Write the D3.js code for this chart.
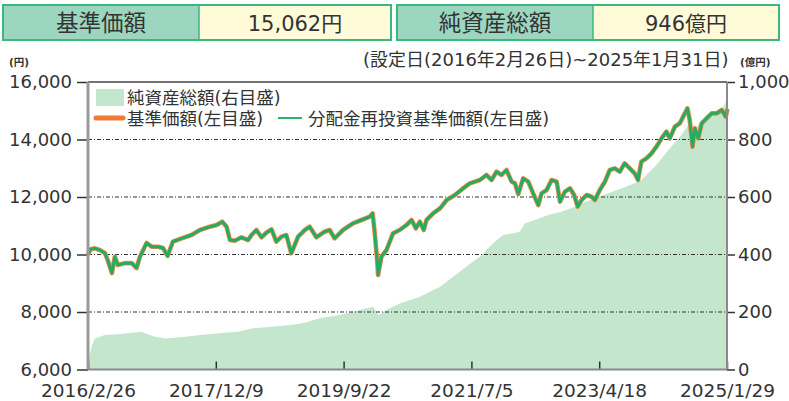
<!DOCTYPE html>
<html><head><meta charset="utf-8">
<script src="https://cdn.jsdelivr.net/npm/d3@7"></script>
<style>
body{margin:0;background:#fff}
svg{display:block}
text{font-family:"DejaVu Sans","Noto Sans CJK JP",sans-serif;fill:#333}
</style>
</head><body><svg id="c" width="789" height="401"></svg>
<script>
// ---- data ----
const priceDates = ["2016-02-26","2016-03-10","2016-04-01","2016-04-26","2016-05-22","2016-06-06","2016-06-27","2016-07-12","2016-07-27","2016-09-02","2016-10-06","2016-10-31","2016-11-17","2016-12-21","2017-01-16","2017-02-17","2017-03-15","2017-04-07","2017-05-04","2017-06-18","2017-08-07","2017-09-19","2017-10-29","2017-12-13","2018-01-11","2018-02-02","2018-02-19","2018-03-16","2018-04-19","2018-05-23","2018-06-09","2018-07-04","2018-07-30","2018-08-24","2018-09-19","2018-10-14","2018-11-09","2018-12-04","2018-12-29","2019-02-02","2019-03-08","2019-04-02","2019-05-06","2019-06-17","2019-07-13","2019-08-07","2019-09-19","2019-11-09","2019-12-22","2020-02-03","2020-02-17","2020-02-28","2020-03-11","2020-03-16","2020-04-02","2020-04-28","2020-05-31","2020-07-04","2020-08-08","2020-09-03","2020-09-25","2020-10-15","2020-11-04","2020-11-18","2020-12-22","2021-01-26","2021-03-01","2021-04-12","2021-05-24","2021-06-27","2021-08-17","2021-09-20","2021-10-16","2021-11-10","2021-12-06","2021-12-31","2022-01-26","2022-02-12","2022-03-01","2022-03-26","2022-04-21","2022-05-16","2022-06-11","2022-06-28","2022-07-24","2022-08-18","2022-09-13","2022-09-30","2022-10-25","2022-11-20","2022-12-11","2022-12-29","2023-01-18","2023-02-13","2023-03-10","2023-03-27","2023-04-21","2023-05-17","2023-06-11","2023-07-06","2023-08-01","2023-08-26","2023-09-21","2023-10-16","2023-11-02","2023-11-19","2023-12-15","2024-01-10","2024-02-04","2024-03-01","2024-03-26","2024-04-12","2024-05-08","2024-06-02","2024-06-28","2024-07-11","2024-07-23","2024-08-06","2024-08-18","2024-09-04","2024-09-22","2024-10-17","2024-11-12","2024-12-08","2025-01-02","2025-01-23","2025-01-31"];
const priceValues = [10000,10180,10215,10156,10050,9800,9356,9923,9634,9700,9700,9530,9923,10400,10271,10271,10225,9950,10445,10563,10678,10852,10945,11026,11141,10967,10504,10480,10598,10504,10678,10852,10598,10758,10876,10445,10620,10678,10041,10620,10852,10967,10598,10793,10852,10563,10852,11085,11200,11316,11432,10736,9808,9287,9923,10156,10736,10852,11026,11200,10910,11141,10852,11200,11432,11606,11895,12069,12302,12476,12591,12765,12591,12880,12765,12939,12532,12476,12100,12650,12532,12128,11721,12128,12243,12591,12532,11837,12186,12302,12069,11663,11895,12069,12010,11895,12243,12532,12939,12997,12880,13170,12997,12823,12591,13228,13345,13519,13750,14040,14271,14040,14445,14562,14910,15084,14678,13750,14387,14040,14562,14736,14910,14910,15026,14794,15062];
const navDates = ["2016-02-26","2016-03-15","2016-04-01","2016-05-22","2016-07-27","2016-10-06","2016-11-24","2016-12-12","2017-02-02","2017-03-25","2017-07-05","2017-10-15","2018-01-25","2018-04-02","2018-06-09","2018-09-19","2018-12-29","2019-03-08","2019-05-23","2019-09-02","2019-12-13","2020-02-20","2020-03-18","2020-04-28","2020-07-04","2020-10-15","2021-01-26","2021-04-03","2021-06-10","2021-08-17","2021-10-24","2021-12-14","2022-02-03","2022-03-09","2022-04-04","2022-05-25","2022-08-01","2022-10-08","2022-12-15","2023-01-18","2023-03-27","2023-06-02","2023-08-09","2023-10-16","2023-11-19","2024-01-27","2024-04-04","2024-06-10","2024-07-14","2024-08-06","2024-09-22","2024-11-29","2025-01-11","2025-01-31"];
const navValues = [20,79,108,120,123,128,131,126,114,108,114,122,128,131,143,149,155,163,178,190,207,218,190,207,230,253,288,323,358,392,439,468,474,479,508,520,537,549,566,578,595,613,630,648,659,705,763,816,850,821,868,897,914,940];
const leftTicks = [6000,8000,10000,12000,14000,16000];
const rightTicks = [0,200,400,600,800,1000];
const xTickDates = ["2016-02-26","2017-12-09","2019-09-22","2021-07-05","2023-04-18","2025-01-29"];
const xTickLabels = ["2016/2/26","2017/12/9","2019/9/22","2021/7/5","2023/4/18","2025/1/29"];
const headerLabels = ["基準価額","純資産総額"];
const headerValues = ["15,062円","946億円"];
const legendLabels = ["純資産総額(右目盛)","基準価額(左目盛)","分配金再投資基準価額(左目盛)"];
const periodNote = "(設定日(2016年2月26日)~2025年1月31日)";
const leftUnit = "(円)";
const rightUnit = "(億円)";

// ---- drawing ----
const parse = d3.timeParse("%Y-%m-%d");
const svg = d3.select("#c");
const L = 88, R = 727, T = 82, B = 369.5;

const x = d3.scaleTime().domain([parse("2016-02-26"), parse("2025-01-29")]).range([L, R]);
const yL = d3.scaleLinear().domain([6000, 16000]).range([B, T]);
const yR = d3.scaleLinear().domain([0, 1000]).range([B, T]);

const price = priceDates.map((d, i) => ({d: parse(d), v: priceValues[i]}));
const nav = navDates.map((d, i) => ({d: parse(d), v: navValues[i]}));

// header boxes
const hdr = svg.append("g");
const boxX = [3, 397], boxW = [388, 382], labW = 196, boxY = 5, boxH = 35;
headerLabels.forEach((lab, i) => {
  const g = hdr.append("g").attr("transform", `translate(${boxX[i]},${boxY})`);
  g.append("rect").attr("width", labW).attr("height", boxH).attr("fill", "#9dd6c0");
  g.append("rect").attr("x", labW).attr("width", boxW[i] - labW).attr("height", boxH).attr("fill", "#fffbd9");
  g.append("rect").attr("width", boxW[i]).attr("height", boxH).attr("fill", "none").attr("stroke", "#3cb77e").attr("stroke-width", 2);
  g.append("line").attr("x1", labW).attr("x2", labW).attr("y1", 0).attr("y2", boxH).attr("stroke", "#3cb77e").attr("stroke-width", 1.5);
  g.append("text").attr("x", labW / 2).attr("y", 26).attr("text-anchor", "middle").style("font-size", "22.5px").attr("fill", "#3a3a3a").text(lab);
  g.append("text").attr("x", labW + (boxW[i] - labW) / 2).attr("y", 26).attr("text-anchor", "middle").style("font-size", "21px").text(headerValues[i]);
});

// unit labels and period note
svg.append("text").attr("x", 9).attr("y", 66).style("font-size", "10.5px").style("font-weight", "bold").text(leftUnit);
svg.append("text").attr("x", 740).attr("y", 66).style("font-size", "10.5px").style("font-weight", "bold").text(rightUnit);
svg.append("text").attr("x", 363).attr("y", 66).style("font-size", "18px").text(periodNote);

// NAV area
svg.append("path").datum(nav)
  .attr("fill", "#c3e6cd")
  .attr("d", d3.area().x(d => x(d.d)).y0(B).y1(d => yR(d.v)));

// gridlines
svg.append("g").selectAll("line").data(leftTicks.filter(t => t > 6000 && t < 16000)).join("line")
  .attr("x1", L).attr("x2", R).attr("y1", d => yL(d)).attr("y2", d => yL(d))
  .attr("stroke", "#333").attr("stroke-width", 1).attr("stroke-dasharray", "4,2,1,2");

// top line
svg.append("line").attr("x1", L).attr("x2", R).attr("y1", T).attr("y2", T).attr("stroke", "#444").attr("stroke-width", 1.5);

// lines
const line = d3.line().x(d => x(d.d)).y(d => yL(d.v));
svg.append("path").datum(price).attr("fill", "none").attr("stroke", "#f08a4b").attr("stroke-width", 4.6).attr("stroke-linejoin", "round").attr("d", line);
svg.append("path").datum(price).attr("fill", "none").attr("stroke", "#22ad62").attr("stroke-width", 3).attr("stroke-linejoin", "round").attr("d", line);

// axes
const axL = svg.append("g").attr("transform", `translate(${L},0)`)
  .call(d3.axisLeft(yL).tickValues(leftTicks).tickSize(11).tickPadding(5).tickFormat(d3.format(",")));
const axR = svg.append("g").attr("transform", `translate(${R},0)`)
  .call(d3.axisRight(yR).tickValues(rightTicks).tickSize(8).tickPadding(3).tickFormat(d3.format(",")));
const axB = svg.append("g").attr("transform", `translate(0,${B})`)
  .call(d3.axisBottom(x).tickValues(xTickDates.map(parse)).tickSize(-8).tickPadding(14).tickFormat((d, i) => xTickLabels[i]));
[axL, axR, axB].forEach(a => {
  a.select(".domain").remove();
  a.selectAll(".tick line").attr("stroke", "#333").attr("stroke-width", 1.5);
  a.selectAll(".tick text").style("font-size", "18px").attr("fill", "#333")
    .style("font-family", '"DejaVu Sans","Noto Sans CJK JP",sans-serif');
});
axB.selectAll(".tick text").style("font-size", "18.5px").attr("dy", "0.71em");
// axis frame lines
svg.append("line").attr("x1", L).attr("x2", L).attr("y1", T).attr("y2", B).attr("stroke", "#9a9a9a").attr("stroke-width", 3);
svg.append("line").attr("x1", R).attr("x2", R).attr("y1", T).attr("y2", B).attr("stroke", "#8a8a8a").attr("stroke-width", 2);
svg.append("line").attr("x1", L).attr("x2", R).attr("y1", B).attr("y2", B).attr("stroke", "#8a8a8a").attr("stroke-width", 2);

// legend
const lg = svg.append("g");
lg.append("rect").attr("x", 96).attr("y", 89).attr("width", 28).attr("height", 17).attr("fill", "#c3e6cd");
lg.append("text").attr("x", 127).attr("y", 104).style("font-size", "17.5px").text(legendLabels[0]);
lg.append("line").attr("x1", 96).attr("x2", 123).attr("y1", 118).attr("y2", 118).attr("stroke", "#f07a32").attr("stroke-width", 5).attr("stroke-linecap", "round");
lg.append("text").attr("x", 127).attr("y", 125).style("font-size", "17.5px").text(legendLabels[1]);
lg.append("line").attr("x1", 278).attr("x2", 302).attr("y1", 118).attr("y2", 118).attr("stroke", "#2db36a").attr("stroke-width", 2);
lg.append("text").attr("x", 308).attr("y", 125).style("font-size", "17.5px").text(legendLabels[2]);
</script>
</body></html>
